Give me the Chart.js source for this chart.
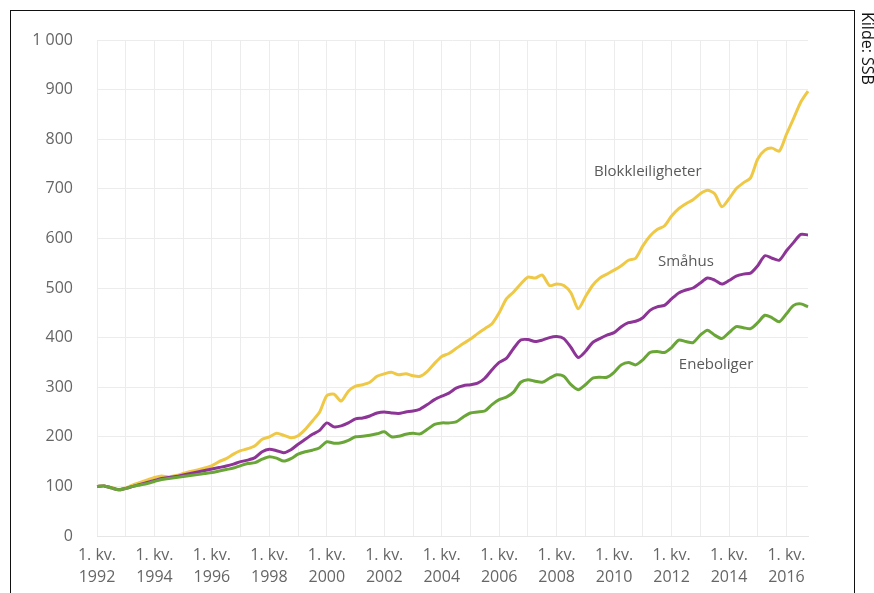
<!DOCTYPE html>
<html lang="no">
<head>
  <meta charset="UTF-8">
  <title>Boligpriser 1992-2016</title>
  <script src="https://cdn.jsdelivr.net/npm/chart.js"></script>
  <style>
    body {
      margin: 0;
      padding: 0;
      background: #fff;
      font-family: "Open Sans", sans-serif;
    }
    .wrap {
      position: relative;
      width: 874px;
      height: 593px;
      overflow: hidden;
    }
    .frame {
      position: absolute;
      left: 10px;
      top: 10px;
      width: 843px;
      height: 620px;
      border: 1.5px solid #111;
      pointer-events: none;
    }
    .source {
      position: absolute;
      left: 857px;
      top: 12px;
      writing-mode: vertical-rl;
      font-size: 16px;
      color: #111;
    }
  </style>
</head>
<body>
  <div class="wrap">
    <canvas id="priceChart"></canvas>
    <div class="frame"></div>
    <div class="source">Kilde: SSB</div>
  </div>

  <script>
    // quarters 1992 Q1 .. 2016 Q4
    const years = [];
    for (let y = 1992; y <= 2016; y++) years.push(y);
    const quarters = [];
    years.forEach(y => { for (let q = 1; q <= 4; q++) quarters.push(q + ". kv. " + y); });

    // index, 1992 Q1 = 100
    const blokkleiligheter = [
      100, 101, 98, 94, 97, 103, 108, 113, 118, 121, 119, 122, 126, 130, 133, 137,
      142, 150, 156, 165, 172, 176, 182, 195, 200, 207, 203, 198, 202, 215, 232, 250,
      283, 286, 272, 292, 302, 305, 310, 322, 327, 330, 325, 327, 323, 322, 332, 348,
      362, 368, 378, 388, 397, 408, 418, 428, 450, 478, 492, 508, 522, 520, 526, 505,
      508, 505, 490, 458, 482, 505, 520, 528, 536, 545, 556, 560, 585, 605, 618, 625,
      645, 660, 670, 678, 690, 697, 690, 664, 680, 700, 712, 722, 760, 778, 782, 776,
      810, 842, 875, 897
    ];
    const smahus = [
      100, 101, 97, 93, 96, 100, 104, 108, 112, 116, 118, 120, 123, 126, 129, 132,
      135, 138, 141, 145, 150, 153, 158, 170, 175, 172, 168, 174, 185, 195, 205, 213,
      228, 220, 222, 228, 236, 238, 242, 248, 250, 248, 247, 250, 252, 256, 265, 275,
      282, 288, 298, 303, 305, 308, 318, 335, 350, 358, 378, 395, 396, 392, 395, 400,
      402, 398, 380, 360, 372, 390, 398, 405, 410, 422, 430, 433, 440, 455, 462, 465,
      478, 490, 496, 500, 510, 520, 516, 508, 515, 524, 528, 530, 545, 565, 560, 556,
      575, 592, 608, 607
    ];
    const eneboliger = [
      100, 101, 97, 93, 96, 100, 103, 106, 110, 114, 116, 118, 120, 122, 124, 126,
      128, 131, 134, 137, 142, 146, 148, 155, 160, 157, 151, 156, 165, 170, 173, 178,
      190, 187, 188, 193, 200, 201, 203, 206, 210, 200, 201, 205, 207, 206, 215, 225,
      228, 228, 230, 240, 248, 250, 252, 265, 275, 280, 290, 310, 315, 312, 310, 318,
      325, 322, 305, 295, 305, 318, 320, 320, 330, 345, 350, 345, 355, 370, 372, 370,
      380, 395, 392, 390, 405, 415, 405, 398, 410, 422, 420, 418, 430, 445, 440, 432,
      448, 465, 468, 462
    ];

    const seriesNames = ["Blokkleiligheter", "Småhus", "Eneboliger"];
    const seriesColors = ["#efc846", "#8d3596", "#6aa637"];
    // where each series name is written: [quarter index, value]
    const nameAnchors = [[76.7, 734], [82, 552], [86.2, 345]];

    const yTicks = [0, 100, 200, 300, 400, 500, 600, 700, 800, 900, 1000];

    const seriesLabels = {
      id: "seriesLabels",
      afterDatasetsDraw(chart) {
        const { ctx, scales } = chart;
        ctx.save();
        ctx.font = "15px 'Open Sans'";
        ctx.fillStyle = "#5a5a5a";
        ctx.textAlign = "center";
        ctx.textBaseline = "middle";
        seriesNames.forEach((name, i) => {
          const [q, v] = nameAnchors[i];
          ctx.fillText(name, scales.x.getPixelForValue(q), scales.y.getPixelForValue(v));
        });
        ctx.restore();
      }
    };

    const ctx = document.getElementById("priceChart");
    new Chart(ctx, {
      type: "line",
      data: {
        labels: quarters,
        datasets: [blokkleiligheter, smahus, eneboliger].map((d, i) => ({
          label: seriesNames[i],
          data: d,
          borderColor: seriesColors[i],
          borderWidth: 3,
          pointRadius: 0,
          tension: 0.25,
          fill: false
        })).reverse()
      },
      options: {
        responsive: true,
        maintainAspectRatio: false,
        animation: false,
        layout: { padding: { left: 0, right: 66, top: 40, bottom: 0 } },
        plugins: {
          legend: { display: false },
          tooltip: { enabled: false }
        },
        scales: {
          x: {
            grid: {
              drawTicks: false,
              color: c => (c.index % 4 === 0 ? "#ececec" : "transparent")
            },
            border: { display: true, color: "#e6e6e6" },
            afterFit: s => { s.height = 57; },
            ticks: {
              autoSkip: false,
              maxRotation: 0,
              minRotation: 0,
              padding: 8,
              color: "#666",
              font: { family: "Open Sans", size: 16, lineHeight: 1.4 },
              callback: (v, i) => (i % 8 === 0 ? ["1. kv.", String(years[i / 4])] : "")
            }
          },
          y: {
            min: 0,
            max: 1000,
            afterFit: s => { s.width = 97; },
            afterBuildTicks: s => { s.ticks = yTicks.map(v => ({ value: v })); },
            grid: { drawTicks: false, color: "#ececec" },
            border: { display: false },
            ticks: {
              padding: 24,
              color: "#666",
              font: { family: "Open Sans", size: 16 },
              callback: v => (v >= 1000 ? "1 000" : String(v))
            }
          }
        }
      },
      plugins: [seriesLabels]
    });
  </script>
</body>
</html>
